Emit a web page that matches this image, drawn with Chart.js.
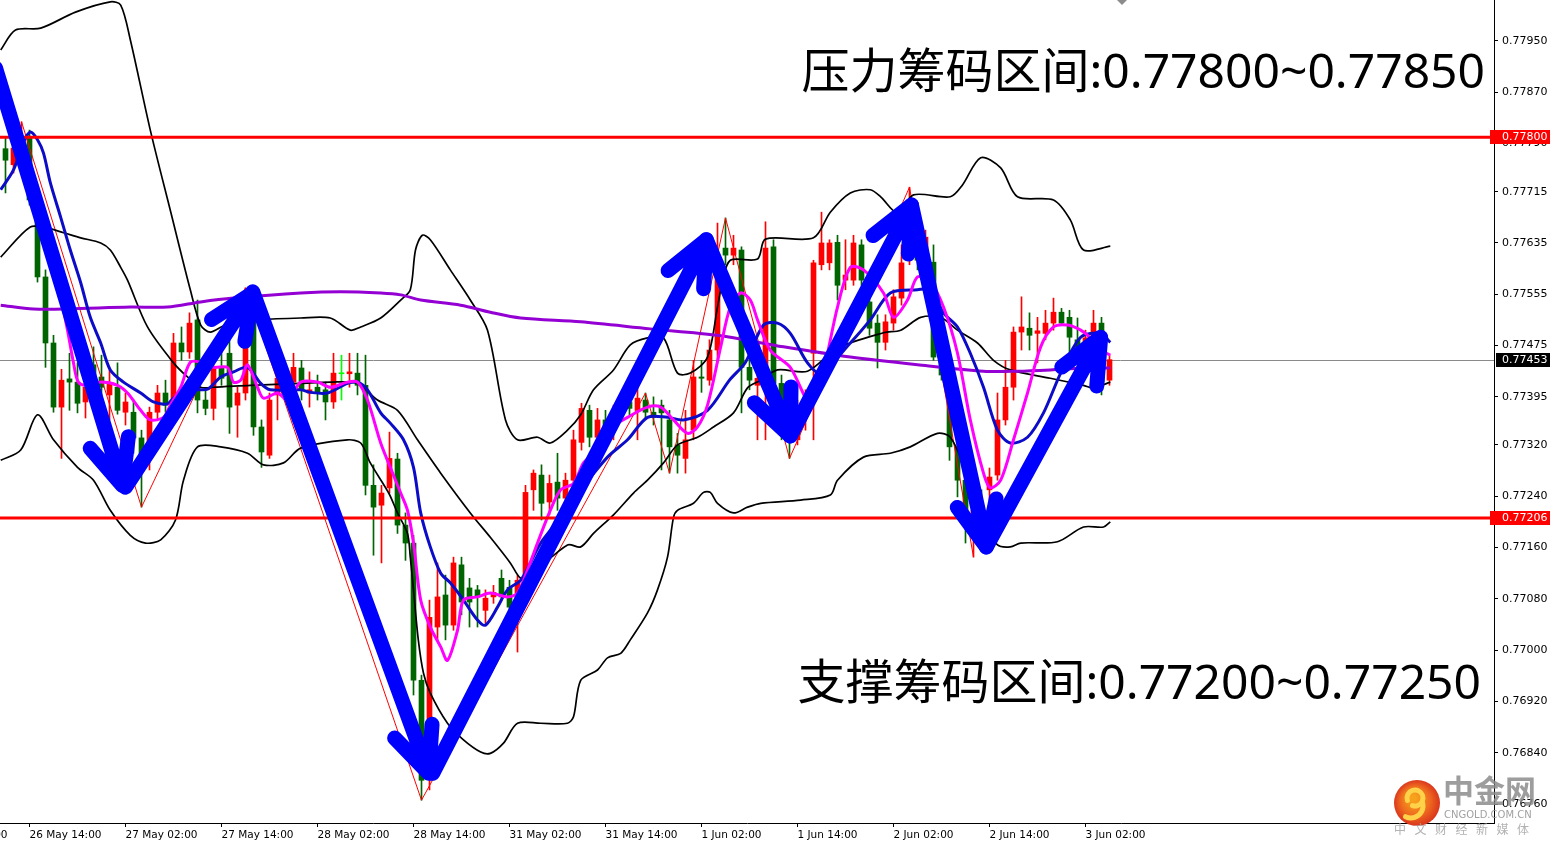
<!DOCTYPE html>
<html>
<head>
<meta charset="utf-8">
<script src="https://cdn.jsdelivr.net/npm/chart.js@4.4.1/dist/chart.umd.min.js"></script>
<style>
  html, body { margin: 0; padding: 0; background: #ffffff; overflow: hidden; }
  canvas { display: block; }
</style>
</head>
<body>
<canvas id="chart" width="1550" height="846"></canvas>
<script>
// ---- hourly candles, bar 0 = 26 May 11:00 ----
const opens = [0.77782,0.77757,0.77783,0.77799,0.77702,0.77582,0.77479,0.77379,0.77423,0.77418,
  0.77387,0.77445,0.77426,0.77398,0.77410,0.77371,0.77371,0.77331,0.77309,0.77371,
  0.77401,0.77390,0.77479,0.77465,0.77515,0.77390,0.77377,0.77441,0.77463,0.77382,
  0.77401,0.77546,0.77348,0.77304,0.77398,0.77424,0.77418,0.77440,0.77401,0.77410,
  0.77406,0.77387,0.77431,0.77431,0.77432,0.77413,0.77257,0.77226,0.77253,0.77298,
  0.77195,0.77167,0.76953,0.76802,0.77036,0.77086,0.77039,0.77133,0.77097,0.77094,
  0.77062,0.77083,0.77112,0.77098,0.77070,0.77083,0.77250,0.77273,0.77231,0.77262,
  0.77237,0.77265,0.77324,0.77374,0.77332,0.77359,0.77343,0.77371,0.77387,0.77374,
  0.77390,0.77371,0.77382,0.77359,0.77320,0.77299,0.77343,0.77426,0.77421,0.77468,
  0.77627,0.77616,0.77624,0.77441,0.77413,0.77421,0.77629,0.77416,0.77359,0.77328,
  0.77379,0.77463,0.77601,0.77604,0.77636,0.77577,0.77577,0.77632,0.77543,0.77510,
  0.77480,0.77510,0.77549,0.77608,0.77624,0.77593,0.77605,0.77457,0.77426,0.77317,
  0.77265,0.77187,0.77218,0.77250,0.77273,0.77359,0.77410,0.77496,0.77502,0.77494,
  0.77494,0.77510,0.77527,0.77519,0.77484,0.77476,0.77494,0.77510,0.77421];
const highs = [0.77800,0.77791,0.77824,0.77811,0.77710,0.77593,0.77491,0.77438,0.77463,0.77448,
  0.77416,0.77473,0.77460,0.77437,0.77448,0.77401,0.77390,0.77343,0.77379,0.77413,
  0.77421,0.77494,0.77504,0.77526,0.77546,0.77406,0.77463,0.77465,0.77484,0.77410,
  0.77565,0.77554,0.77359,0.77401,0.77468,0.77445,0.77463,0.77452,0.77434,0.77429,
  0.77418,0.77463,0.77460,0.77463,0.77463,0.77460,0.77289,0.77257,0.77340,0.77307,
  0.77214,0.77179,0.76961,0.77078,0.77136,0.77117,0.77145,0.77145,0.77112,0.77101,
  0.77094,0.77101,0.77125,0.77109,0.77117,0.77257,0.77281,0.77289,0.77273,0.77307,
  0.77276,0.77343,0.77385,0.77382,0.77377,0.77374,0.77382,0.77398,0.77398,0.77410,
  0.77401,0.77395,0.77390,0.77374,0.77338,0.77374,0.77452,0.77452,0.77484,0.77666,
  0.77674,0.77647,0.77629,0.77460,0.77432,0.77668,0.77640,0.77429,0.77390,0.77390,
  0.77406,0.77608,0.77683,0.77640,0.77647,0.77640,0.77647,0.77640,0.77562,0.77523,
  0.77523,0.77562,0.77632,0.77722,0.77640,0.77655,0.77632,0.77468,0.77437,0.77374,
  0.77281,0.77234,0.77250,0.77284,0.77401,0.77452,0.77504,0.77551,0.77526,0.77519,
  0.77530,0.77549,0.77533,0.77530,0.77518,0.77499,0.77530,0.77519,0.77460];
const lows = [0.77713,0.77744,0.77777,0.77694,0.77574,0.77441,0.77371,0.77299,0.77374,0.77370,
  0.77362,0.77406,0.77371,0.77359,0.77368,0.77351,0.77307,0.77223,0.77281,0.77359,
  0.77371,0.77382,0.77452,0.77455,0.77370,0.77367,0.77359,0.77413,0.77338,0.77332,
  0.77390,0.77335,0.77285,0.77299,0.77359,0.77398,0.77398,0.77390,0.77379,0.77390,
  0.77359,0.77377,0.77390,0.77410,0.77398,0.77242,0.77148,0.77136,0.77245,0.77182,
  0.77140,0.76930,0.76766,0.76782,0.77016,0.77016,0.77031,0.77055,0.77036,0.77036,
  0.77042,0.77073,0.77078,0.77055,0.76997,0.77078,0.77218,0.77203,0.77211,0.77218,
  0.77226,0.77257,0.77312,0.77317,0.77328,0.77335,0.77328,0.77359,0.77367,0.77328,
  0.77362,0.77351,0.77281,0.77276,0.77276,0.77276,0.77328,0.77402,0.77413,0.77452,
  0.77601,0.77601,0.77370,0.77406,0.77328,0.77328,0.77390,0.77328,0.77299,0.77320,
  0.77343,0.77328,0.77593,0.77593,0.77546,0.77562,0.77569,0.77569,0.77491,0.77440,
  0.77468,0.77499,0.77538,0.77601,0.77593,0.77585,0.77452,0.77421,0.77296,0.77239,
  0.77167,0.77145,0.77156,0.77234,0.77265,0.77351,0.77390,0.77468,0.77468,0.77448,
  0.77484,0.77499,0.77507,0.77463,0.77468,0.77465,0.77484,0.77398,0.77413];
const closes = [0.77764,0.77783,0.77799,0.77702,0.77582,0.77479,0.77379,0.77421,0.77418,0.77385,
  0.77410,0.77418,0.77410,0.77416,0.77374,0.77387,0.77331,0.77281,0.77371,0.77401,
  0.77382,0.77479,0.77465,0.77510,0.77390,0.77377,0.77441,0.77424,0.77379,0.77401,
  0.77549,0.77348,0.77309,0.77390,0.77424,0.77413,0.77441,0.77406,0.77406,0.77402,
  0.77387,0.77432,0.77431,0.77434,0.77413,0.77257,0.77223,0.77245,0.77299,0.77195,
  0.77167,0.76953,0.76797,0.77051,0.77083,0.77039,0.77136,0.77075,0.77075,0.77083,
  0.77081,0.77090,0.77083,0.77067,0.77109,0.77246,0.77276,0.77229,0.77260,0.77237,
  0.77265,0.77328,0.77377,0.77332,0.77359,0.77343,0.77371,0.77387,0.77377,0.77393,
  0.77371,0.77363,0.77370,0.77317,0.77304,0.77328,0.77426,0.77424,0.77468,0.77593,
  0.77616,0.77627,0.77441,0.77421,0.77424,0.77627,0.77416,0.77359,0.77335,0.77379,
  0.77390,0.77604,0.77635,0.77635,0.77569,0.77585,0.77635,0.77577,0.77502,0.77480,
  0.77512,0.77551,0.77604,0.77629,0.77608,0.77644,0.77457,0.77429,0.77317,0.77265,
  0.77198,0.77218,0.77203,0.77270,0.77359,0.77410,0.77496,0.77504,0.77491,0.77498,
  0.77510,0.77527,0.77510,0.77488,0.77473,0.77487,0.77510,0.77418,0.77453];

// ---- indicator lines as [bar, price] points ----
const bandUpper = [[-0.6,0.77936],[1.25,0.77967],[4.4,0.77970],[8.75,0.77995],[13.1,0.78011],[14.4,0.78006],
  [15.6,0.77952],[18.1,0.77811],[20.6,0.77686],[23.1,0.77562],[24.4,0.77507],[25.6,0.77496],[27.5,0.77507],
  [31.9,0.77515],[36.9,0.77518],[40.6,0.77518],[43.1,0.77499],[44.4,0.77504],[46.9,0.77518],[49.4,0.77546],
  [50.6,0.77562],[51.25,0.77624],[52.1,0.77647],[53.1,0.77640],[55.6,0.77593],[58.1,0.77546],[60.25,0.77499],
  [62.5,0.77359],[64,0.77328],[66.5,0.77332],[68.1,0.77323],[70.25,0.77343],[71.9,0.77367],[73.5,0.77406],
  [76,0.77437],[78.1,0.77476],[80.25,0.77487],[82.25,0.77487],[84,0.77432],[85.6,0.77432],[87.75,0.77457],
  [89,0.77535],[89.6,0.77573],[90.6,0.77608],[94,0.77610],[95,0.77641],[101,0.77643],[103.1,0.77683],
  [105.6,0.77713],[108.1,0.77718],[109.4,0.77707],[111.5,0.77682],[113.5,0.77710],[118.1,0.77707],
  [119.6,0.77725],[121.9,0.77768],[124.4,0.77752],[126.5,0.77707],[131,0.77702],[133.1,0.77671],
  [134.75,0.77624],[138.1,0.77630]];
const bandMiddle = [[-0.6,0.77613],[3.1,0.77660],[5.25,0.77658],[7.25,0.77651],[9.4,0.77643],[11.9,0.77635],
  [13.1,0.77624],[14.4,0.77597],[15.25,0.77577],[17.75,0.77504],[21,0.77448],[22.75,0.77426],[24.4,0.77410],
  [26,0.77410],[30.6,0.77413],[36.9,0.77416],[40.6,0.77418],[44,0.77416],[46.5,0.77390],[49,0.77374],
  [51.5,0.77328],[54.4,0.77276],[58.1,0.77214],[60.6,0.77176],[63.1,0.77136],[64.4,0.77112],[65.6,0.77117],
  [70.25,0.77164],[71.9,0.77161],[73.5,0.77182],[76,0.77211],[78.5,0.77245],[80.25,0.77265],[82.25,0.77292],
  [84,0.77320],[86.5,0.77332],[88.5,0.77348],[91,0.77370],[92.75,0.77409],[94.4,0.77421],[96.5,0.77437],
  [100.25,0.77435],[104,0.77471],[109.75,0.77495],[111.9,0.77499],[114.4,0.77519],[116.9,0.77519],
  [119,0.77499],[121.5,0.77479],[123.5,0.77452],[125.6,0.77437],[130.6,0.77424],[134.75,0.77413],
  [136,0.77409],[138.1,0.77418]];
const bandLower = [[-0.6,0.77296],[1.9,0.77312],[4,0.77367],[6,0.77328],[9,0.77285],[11,0.77265],[13.1,0.77218],
  [15.6,0.77179],[17.5,0.77167],[19.4,0.77172],[21.25,0.77203],[22.25,0.77265],[24,0.77317],[26.9,0.77317],
  [30.25,0.77307],[32.25,0.77289],[34.75,0.77292],[36.9,0.77315],[42.75,0.77328],[44.4,0.77323],[45.6,0.77292],
  [47.9,0.77245],[49,0.77214],[50.25,0.77182],[50.6,0.77145],[51,0.77094],[51.6,0.77016],[52.25,0.76964],
  [53.1,0.76933],[55.25,0.76886],[57.25,0.76860],[59.4,0.76841],[60.6,0.76839],[62.25,0.76855],[64,0.76886],
  [66.9,0.76886],[70.25,0.76886],[71,0.76896],[71.9,0.76953],[74,0.76969],[75.25,0.76988],[76.9,0.76995],
  [78.1,0.77016],[80.25,0.77058],[81.5,0.77094],[82.75,0.77145],[83.5,0.77207],[84,0.77218],[86,0.77229],
  [87.25,0.77246],[88.1,0.77246],[89,0.77229],[91,0.77214],[92.75,0.77223],[94.4,0.77229],[99.4,0.77234],
  [103.1,0.77242],[104,0.77265],[107.25,0.77301],[110.6,0.77307],[113.1,0.77317],[116.5,0.77338],
  [118.1,0.77332],[120,0.77281],[121.9,0.77203],[124,0.77164],[125.6,0.77161],[126.9,0.77167],
  [131.5,0.77169],[134.75,0.77192],[137.25,0.77192],[138.1,0.77200]];
const slowAverage = [[-0.6,0.77718],[1,0.77749],[2.25,0.77792],[3.1,0.77808],[4,0.77796],[4.75,0.77775],
  [5.6,0.77729],[6.9,0.77675],[8.1,0.77624],[9.4,0.77573],[10.6,0.77519],[11.9,0.77479],[13.1,0.77437],
  [14.75,0.77418],[16.9,0.77401],[18.5,0.77387],[20.25,0.77384],[21,0.77393],[23.5,0.77406],[25.25,0.77407],
  [26.9,0.77426],[28.5,0.77434],[30.25,0.77441],[31.9,0.77416],[33.1,0.77406],[36.9,0.77406],[38.1,0.77402],
  [40.25,0.77401],[42.75,0.77416],[44,0.77418],[45.25,0.77406],[46.9,0.77370],[48.1,0.77354],[49.75,0.77328],
  [51,0.77285],[51.9,0.77214],[53.1,0.77161],[54.4,0.77120],[55.6,0.77105],[57.25,0.77078],[59,0.77047],
  [60,0.77039],[61.5,0.77067],[62.75,0.77094],[64.4,0.77109],[65.6,0.77136],[66.9,0.77167],[69.4,0.77207],
  [71.9,0.77250],[75.25,0.77301],[77.75,0.77328],[80.25,0.77363],[82.75,0.77363],[84.75,0.77359],
  [87.75,0.77374],[90.5,0.77421],[92.5,0.77449],[94.75,0.77507],[96.5,0.77510],[98.1,0.77494],
  [100.25,0.77448],[101.9,0.77432],[105.6,0.77479],[108.1,0.77515],[110.6,0.77557],[114,0.77562],
  [115.6,0.77562],[117.25,0.77526],[119,0.77504],[120.6,0.77463],[122.25,0.77410],[124,0.77343],
  [125.6,0.77323],[127.75,0.77332],[129.75,0.77370],[131.9,0.77432],[134.4,0.77488],[136.9,0.77494],
  [138.1,0.77480]];
const fastAverage = [[1,0.77803],[2.1,0.77796],[2.75,0.77775],[3.5,0.77738],[4.4,0.77702],[5.25,0.77655],
  [6,0.77608],[6.9,0.77551],[7.75,0.77499],[8.5,0.77448],[9.1,0.77418],[10.25,0.77413],[11.9,0.77418],
  [14,0.77413],[15.25,0.77401],[16.9,0.77374],[18.1,0.77359],[19.75,0.77363],[20.6,0.77382],[21.9,0.77410],
  [23.1,0.77449],[24.4,0.77449],[26,0.77441],[27.75,0.77441],[28.5,0.77418],[29.4,0.77421],[30.25,0.77445],
  [31.5,0.77410],[32.25,0.77393],[34,0.77401],[35.25,0.77390],[36.9,0.77418],[39,0.77418],[40.6,0.77410],
  [42.75,0.77418],[44,0.77418],[45.25,0.77390],[46.9,0.77323],[48.1,0.77285],[49.4,0.77245],[50.25,0.77218],
  [51,0.77167],[51.9,0.77078],[53.1,0.77036],[54.4,0.77005],[55.25,0.76984],[56.5,0.77031],[57.25,0.77078],
  [59,0.77083],[60.6,0.77089],[62.75,0.77083],[64,0.77089],[65.25,0.77125],[66.5,0.77167],[68.1,0.77218],
  [69.4,0.77250],[71,0.77260],[72.25,0.77292],[73.5,0.77307],[75.25,0.77343],[77.75,0.77363],[80.25,0.77379],
  [81.9,0.77379],[83.5,0.77359],[85.25,0.77338],[86.5,0.77348],[87.75,0.77382],[89.4,0.77473],[90.6,0.77535],
  [91.9,0.77557],[93.1,0.77546],[94,0.77515],[95.6,0.77468],[98.1,0.77441],[100.6,0.77385],[102.25,0.77437],
  [104,0.77535],[105.6,0.77597],[107.25,0.77593],[109.75,0.77557],[111,0.77519],[112.75,0.77546],
  [114,0.77582],[115.6,0.77574],[117.25,0.77535],[119,0.77463],[120.6,0.77359],[122.25,0.77276],
  [123.1,0.77253],[124.4,0.77265],[126,0.77328],[127.75,0.77401],[129.4,0.77473],[131,0.77504],
  [132.75,0.77507],[134.4,0.77499],[135.6,0.77487],[136.9,0.77468],[138.1,0.77460]];
const longAverage = [[-0.6,0.77538],[3.5,0.77532],[7.75,0.77532],[15.6,0.77535],[20.25,0.77535],[24.4,0.77543],
  [28.5,0.77549],[36.9,0.77557],[41.9,0.77559],[46.9,0.77557],[49.4,0.77554],[51.9,0.77546],[56.9,0.77538],
  [60.6,0.77527],[64.4,0.77518],[71.9,0.77512],[80.6,0.77501],[89,0.77491],[97.25,0.77473],[105.6,0.77457],
  [114,0.77445],[122.25,0.77435],[126.5,0.77435],[130.6,0.77437],[134.75,0.77440],[138.1,0.77440]];
const zigzagPivots = [[2,0.77824],[17,0.77223],[30,0.77565],[52,0.76766],[80,0.77401],[83,0.77276],
  [90,0.77674],[98,0.77299],[113,0.77722],[121,0.77145]];

// ---- hand-drawn swing arrows: [fromBar, fromPrice, toBar, toPrice] ----
const swingArrows = [
  [-1.25,0.77908, 14.6,0.77257],
  [15,0.77254, 30.9,0.77557],
  [30.9,0.77559, 52.9,0.76808],
  [53.4,0.76808, 87.6,0.77640],
  [87.6,0.77640, 98.1,0.77334],
  [98.1,0.77334, 113.25,0.77694],
  [113.25,0.77694, 122.6,0.77161],
  [122.6,0.77161, 136.9,0.77488]
];

// ---- levels and axis labels ----
const resistanceLine = 0.77800;
const supportLine = 0.77206;
const lastPrice = 0.77453;
const resistanceZone = [0.77800, 0.77850];
const supportZone = [0.77200, 0.77250];
const priceTicks = [0.77950,0.77870,0.77790,0.77715,0.77635,0.77555,0.77475,0.77395,0.77320,
  0.77240,0.77160,0.77080,0.77000,0.76920,0.76840,0.76760];
const timeTickBars = [3,15,27,39,51,63,75,87,99,111,123,135];
const timeTickLabels = ['26 May 14:00','27 May 02:00','27 May 14:00','28 May 02:00','28 May 14:00',
  '31 May 02:00','31 May 14:00','1 Jun 02:00','1 Jun 14:00','2 Jun 02:00','2 Jun 14:00','3 Jun 02:00'];
const hiddenTimeTick = { bar: -9, label: '26 May 02:00' };

const AXIS_FONT = 'DejaVu Sans';
const barIdx = opens.map((_, i) => i);
const candleColor = barIdx.map(i => closes[i] > opens[i] ? '#ff0000' : (closes[i] < opens[i] ? '#006400' : '#00ff00'));
const toPoints = arr => arr.map(([x, y]) => ({ x, y }));

function lineSet(points, color, width, order, tension) {
  return {
    type: 'line', data: toPoints(points), borderColor: color, borderWidth: width,
    pointRadius: 0, pointHoverRadius: 0, tension: tension, fill: false, order: order
  };
}

const overlay = {
  id: 'overlay',
  beforeDatasetsDraw(chart) {
    const { ctx, chartArea: a, scales: { y } } = chart;
    const py = Math.round(y.getPixelForValue(lastPrice)) + 0.5;
    ctx.save();
    ctx.strokeStyle = '#8a8a8a';
    ctx.lineWidth = 1;
    ctx.beginPath(); ctx.moveTo(a.left, py); ctx.lineTo(a.right, py); ctx.stroke();
    ctx.restore();
  },
  afterDatasetsDraw(chart) {
    const { ctx, chartArea: a, scales: { x, y } } = chart;
    ctx.save();
    // support / resistance levels
    ctx.strokeStyle = '#ff0000';
    ctx.lineWidth = 3;
    [resistanceLine, supportLine].forEach(v => {
      const py = y.getPixelForValue(v);
      ctx.beginPath(); ctx.moveTo(a.left, py); ctx.lineTo(a.right, py); ctx.stroke();
    });
    // swing arrows
    ctx.strokeStyle = '#0000ff';
    ctx.lineWidth = 15;
    ctx.lineCap = 'round';
    ctx.lineJoin = 'round';
    const wing = 49, spread = 24 * Math.PI / 180;
    swingArrows.forEach(([b0, p0, b1, p1]) => {
      const x0 = x.getPixelForValue(b0), y0 = y.getPixelForValue(p0);
      const x1 = x.getPixelForValue(b1), y1 = y.getPixelForValue(p1);
      const back = Math.atan2(y0 - y1, x0 - x1);
      ctx.beginPath();
      ctx.moveTo(x0, y0); ctx.lineTo(x1, y1);
      ctx.moveTo(x1 + wing * Math.cos(back + spread), y1 + wing * Math.sin(back + spread));
      ctx.lineTo(x1, y1);
      ctx.lineTo(x1 + wing * Math.cos(back - spread), y1 + wing * Math.sin(back - spread));
      ctx.stroke();
    });
    // zone captions
    ctx.fillStyle = '#000000';
    ctx.font = '48px "Noto Sans", "Noto Sans CJK SC", sans-serif';
    ctx.textAlign = 'right';
    ctx.textBaseline = 'alphabetic';
    ctx.fillText('压力筹码区间:' + resistanceZone[0].toFixed(5) + '~' + resistanceZone[1].toFixed(5), 1485, 88);
    ctx.fillText('支撑筹码区间:' + supportZone[0].toFixed(5) + '~' + supportZone[1].toFixed(5), 1481, 699);
    ctx.restore();
  },
  afterDraw(chart) {
    const { ctx, chartArea: a, scales: { x, y } } = chart;
    ctx.save();
    // price tags on the right axis
    ctx.font = '11px "' + AXIS_FONT + '"';
    ctx.textBaseline = 'middle';
    ctx.textAlign = 'left';
    const tag = (v, bg, left) => {
      const py = Math.round(y.getPixelForValue(v));
      ctx.fillStyle = bg;
      ctx.fillRect(left, py - 7, 1550 - left, 14);
      ctx.fillStyle = '#ffffff';
      ctx.fillText(v.toFixed(5), a.right + 8, py + 0.5);
    };
    tag(resistanceLine, '#ff0000', a.right - 4);
    tag(supportLine, '#ff0000', a.right - 4);
    tag(lastPrice, '#000000', a.right + 2);
    // earlier time label running off the left edge
    ctx.fillStyle = '#000000';
    ctx.font = '10.5px "' + AXIS_FONT + '"';
    ctx.fillText(hiddenTimeTick.label, x.getPixelForValue(hiddenTimeTick.bar) + 2, a.bottom + 12);
    // chart shift marker
    ctx.fillStyle = '#8c8c8c';
    ctx.beginPath(); ctx.moveTo(1117, 0); ctx.lineTo(1127, 0); ctx.lineTo(1122, 5); ctx.closePath(); ctx.fill();
    // site mark
    const g = ctx.createRadialGradient(1413, 798, 3, 1417, 803, 24);
    g.addColorStop(0, '#f7a21b');
    g.addColorStop(0.55, '#ee6a1f');
    g.addColorStop(1, '#d8301c');
    ctx.fillStyle = g;
    ctx.beginPath(); ctx.arc(1417, 803, 23, 0, Math.PI * 2); ctx.fill();
    ctx.strokeStyle = '#ffd24a';
    ctx.lineWidth = 5;
    ctx.lineCap = 'round';
    ctx.beginPath(); ctx.arc(1415, 798, 8, Math.PI * 0.9, Math.PI * 2.6); ctx.stroke();
    ctx.beginPath(); ctx.arc(1411, 806, 12, -Math.PI * 0.1, Math.PI * 0.65); ctx.stroke();
    ctx.fillStyle = 'rgba(140,140,140,0.85)';
    ctx.textAlign = 'left';
    ctx.textBaseline = 'alphabetic';
    ctx.font = 'bold 31px "Noto Sans CJK SC"';
    ctx.fillText('中金网', 1443, 802);
    ctx.font = '10px "' + AXIS_FONT + '"';
    ctx.fillStyle = 'rgba(150,150,150,0.9)';
    ctx.fillText('CNGOLD.COM.CN', 1444, 818);
    ctx.font = '12px "Noto Sans CJK SC"';
    ctx.fillStyle = 'rgba(170,170,170,0.9)';
    '中文财经新媒体'.split('').forEach((ch, k) => ctx.fillText(ch, 1394 + k * 20.5, 834));
    ctx.restore();
  }
};

new Chart(document.getElementById('chart'), {
  type: 'bar',
  data: {
    datasets: [
      { type: 'bar', data: barIdx.map(i => ({ x: i, y: [lows[i], highs[i]] })), backgroundColor: candleColor,
        barThickness: 1, grouped: false, borderWidth: 0, order: 20 },
      { type: 'bar', data: barIdx.map(i => ({ x: i, y: [opens[i], closes[i]] })), backgroundColor: candleColor,
        barThickness: 5, grouped: false, borderWidth: 0, minBarLength: 1, order: 19 },
      lineSet(zigzagPivots, '#ff0000', 1, 8, 0),
      lineSet(bandUpper, '#000000', 1.7, 7, 0.3),
      lineSet(bandMiddle, '#000000', 1.7, 7, 0.3),
      lineSet(bandLower, '#000000', 1.7, 7, 0.3),
      lineSet(longAverage, '#9400d3', 3, 6, 0.3),
      lineSet(slowAverage, '#0c0cc8', 3, 5, 0.3),
      lineSet(fastAverage, '#ff00ff', 3, 4, 0.3)
    ]
  },
  options: {
    responsive: false,
    animation: false,
    devicePixelRatio: 1,
    layout: { padding: 0 },
    plugins: { legend: { display: false }, tooltip: { enabled: false } },
    scales: {
      x: {
        type: 'linear', min: -0.6875, max: 186.0625, offset: false,
        grid: { display: true, drawOnChartArea: false, drawTicks: true, tickLength: 4, color: '#000000', offset: false },
        border: { display: true, color: '#000000', width: 1 },
        ticks: {
          autoSkip: false, maxRotation: 0, minRotation: 0, align: 'start', padding: 2, color: '#000000',
          font: { family: AXIS_FONT, size: 10.5 },
          callback: (v, i) => timeTickLabels[i]
        },
        afterBuildTicks: s => { s.ticks = timeTickBars.map(v => ({ value: v })); },
        afterFit: s => { s.height = 23; s.paddingLeft = 0; s.paddingRight = 0; }
      },
      y: {
        type: 'linear', position: 'right', min: 0.767304, max: 0.780139,
        grid: { display: true, drawOnChartArea: false, drawTicks: true, tickLength: 4, color: '#000000' },
        border: { display: true, color: '#000000', width: 1 },
        ticks: {
          padding: 4, color: '#000000', font: { family: AXIS_FONT, size: 11 },
          callback: v => Number(v).toFixed(5)
        },
        afterBuildTicks: s => { s.ticks = priceTicks.map(v => ({ value: v })); },
        afterFit: s => { s.width = 56; s.paddingTop = 0; s.paddingBottom = 0; }
      }
    }
  },
  plugins: [overlay]
});
</script>
</body>
</html>
